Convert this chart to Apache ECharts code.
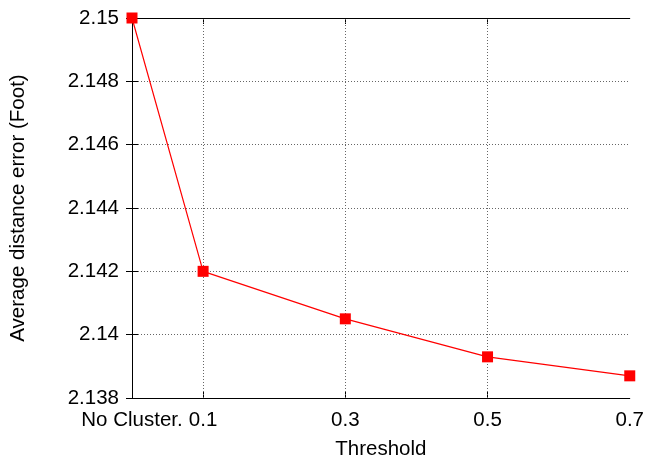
<!DOCTYPE html>
<html>
<head>
<meta charset="utf-8">
<script src="https://cdn.jsdelivr.net/npm/echarts@6/dist/echarts.min.js"></script>
<style>html,body{margin:0;padding:0;background:#fff;}#c{width:647px;height:465px;}</style>
</head>
<body>
<div id="c"></div>
<script>
var thresholds = [0, 0.1, 0.3, 0.5, 0.7];
var tickLabels = ['No Cluster.', '0.1', '0.3', '0.5', '0.7'];
var errors = [2.15, 2.142, 2.1405, 2.1393, 2.1387];
var gridXValues = [0.1, 0.3, 0.5];

var FONT = '"Liberation Sans", Arial, sans-serif';
var FS = 20.5;
var chart = echarts.init(document.getElementById('c'));
var axisLine = {show: true, lineStyle: {color: '#000', width: 1}};
var split = {show: true, lineStyle: {color: '#666', type: [1, 2], width: 1}};
var labelMap = {};
thresholds.forEach(function (t, i) { labelMap[t.toFixed(1)] = tickLabels[i]; });

chart.setOption({
  animation: false,
  grid: {left: 132, right: 16, top: 18, bottom: 67, containLabel: false},
  xAxis: [{
    type: 'value', min: 0, max: 0.7, interval: 0.1, position: 'bottom',
    name: 'Threshold', nameLocation: 'middle', nameGap: 41,
    nameTextStyle: {fontSize: FS, color: '#000', fontFamily: FONT},
    axisLine: axisLine,
    axisTick: {show: true, inside: true, length: 6, customValues: gridXValues, lineStyle: {color: '#000'}},
    axisLabel: {
      customValues: thresholds,
      fontSize: FS, color: '#000', fontFamily: FONT, margin: 12,
      formatter: function (v) { return labelMap[v.toFixed(1)] || ''; }
    },
    splitLine: {show: false}
  }, {
    type: 'value', min: 0, max: 0.7, interval: 0.1, position: 'top',
    axisLine: axisLine,
    axisTick: {show: true, inside: true, length: 6, customValues: gridXValues, lineStyle: {color: '#000'}},
    axisLabel: {show: false}, splitLine: {show: false}
  }],
  yAxis: [{
    type: 'value', min: 2.138, max: 2.15, interval: 0.002, position: 'left',
    name: 'Average distance error (Foot)', nameLocation: 'middle', nameGap: 103,
    nameTextStyle: {fontSize: FS, color: '#000', fontFamily: FONT},
    axisLine: axisLine,
    axisTick: {show: true, inside: true, length: 6, lineStyle: {color: '#000'}},
    axisLabel: {fontSize: FS, color: '#000', fontFamily: FONT, margin: 13},
    splitLine: split
  }, {
    type: 'value', min: 2.138, max: 2.15, interval: 0.002, position: 'right',
    axisLine: axisLine,
    axisTick: {show: true, inside: true, length: 6, lineStyle: {color: '#000'}},
    axisLabel: {show: false}, splitLine: {show: false}
  }],
  series: [{
    type: 'line',
    xAxisIndex: 0, yAxisIndex: 0,
    data: thresholds.map(function (t, i) { return [t, errors[i]]; }),
    symbol: 'rect', symbolSize: 11,
    lineStyle: {color: '#ff0000', width: 1.2},
    itemStyle: {color: '#ff0000'},
    z: 5,
    markLine: {
      silent: true, symbol: 'none', label: {show: false},
      lineStyle: {color: '#666', type: [1, 2], width: 1},
      data: gridXValues.map(function (v) { return {xAxis: v}; })
    }
  }]
});
</script>
</body>
</html>
